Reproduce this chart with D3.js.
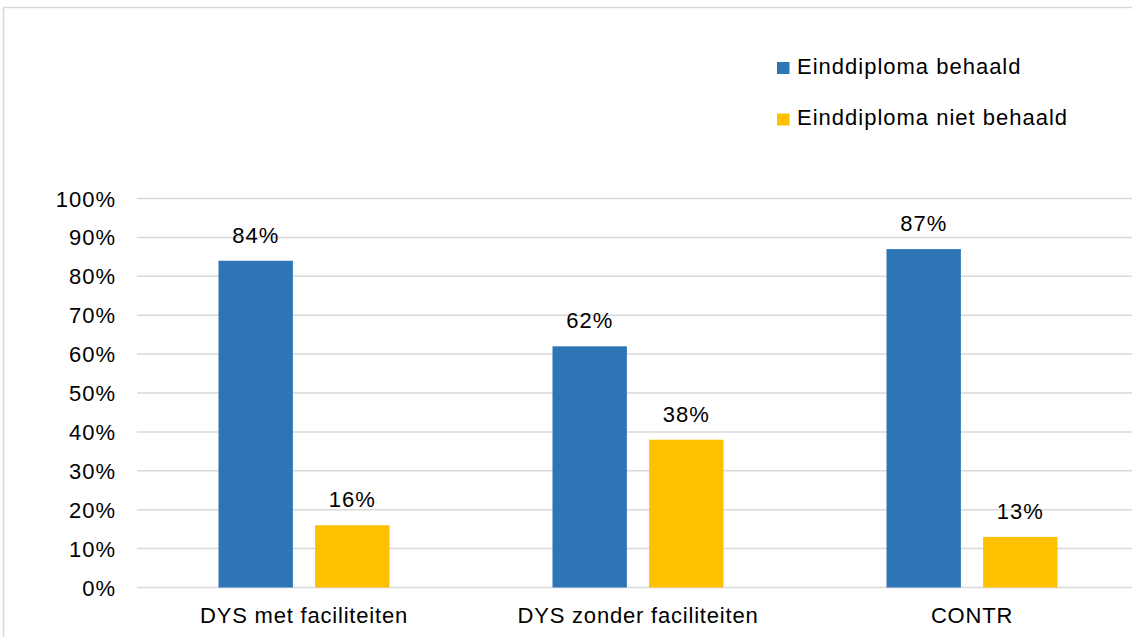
<!DOCTYPE html>
<html>
<head>
	<meta charset="utf-8">
	<title>Einddiploma</title>
	<script src="https://d3js.org/d3.v7.min.js"></script>
	<style>
		body { margin: 0; background: #fff; }
		text { font-family: "Liberation Sans", Arial, sans-serif; fill: #000; font-size: 22px; letter-spacing: 1px; }
	</style>
</head>
<body>
	<div id="chart"></div>
	<script>
		// data
		var categories = ["DYS met faciliteiten", "DYS zonder faciliteiten", "CONTR"];
		var seriesNames = ["Einddiploma behaald", "Einddiploma niet behaald"];
		var behaald = [84, 62, 87];
		var nietBehaald = [16, 38, 13];
		var yTicks = [0, 10, 20, 30, 40, 50, 60, 70, 80, 90, 100];
		var colors = ["#2E75B6", "#FFC000"];

		var w = 1132, h = 637;
		var svg = d3.select("#chart").append("svg")
			.attr("width", w)
			.attr("height", h);

		// chart border
		svg.append("rect")
			.attr("x", 3.5).attr("y", 7.5)
			.attr("width", w + 10).attr("height", h + 10)
			.attr("fill", "none")
			.attr("stroke", "#D9D9D9")
			.attr("stroke-width", 1.5);

		var x = d3.scaleBand().domain(categories).range([137, 1139]);
		var x1 = d3.scaleBand().domain(seriesNames).range([0, 171]).paddingInner(0.23);
		var y = d3.scaleLinear().domain([0, 100]).range([587.5, 198.5]);

		// gridlines
		svg.append("g").selectAll("line").data(yTicks).enter().append("line")
			.attr("x1", 137).attr("x2", w)
			.attr("y1", function(d) { return y(d); })
			.attr("y2", function(d) { return y(d); })
			.attr("stroke", "#D9D9D9")
			.attr("stroke-width", 1.5);

		// y axis labels
		svg.append("g").selectAll("text").data(yTicks).enter().append("text")
			.attr("x", 116)
			.attr("y", function(d) { return y(d) + 8; })
			.attr("text-anchor", "end")
			.text(function(d) { return d + "%"; });

		// bars
		var table = categories.map(function(c, i) {
			return { cat: c, vals: [behaald[i], nietBehaald[i]] };
		});
		var groups = svg.append("g").selectAll("g").data(table).enter().append("g")
			.attr("transform", function(d) { return "translate(" + (x(d.cat) + x.bandwidth() / 2 - 85.5) + ",0)"; });

		groups.selectAll("rect").data(function(d) {
			return d.vals.map(function(v, j) { return { s: seriesNames[j], v: v, j: j }; });
		}).enter().append("rect")
			.attr("x", function(d) { return x1(d.s); })
			.attr("width", x1.bandwidth())
			.attr("y", function(d) { return y(d.v); })
			.attr("height", function(d) { return y(0) - y(d.v); })
			.attr("fill", function(d) { return colors[d.j]; });

		groups.selectAll("text").data(function(d) {
			return d.vals.map(function(v, j) { return { s: seriesNames[j], v: v }; });
		}).enter().append("text")
			.attr("x", function(d) { return x1(d.s) + x1.bandwidth() / 2; })
			.attr("y", function(d) { return y(d.v) - 18; })
			.attr("text-anchor", "middle")
			.text(function(d) { return d.v + "%"; });

		// category labels
		svg.append("g").selectAll("text").data(categories).enter().append("text")
			.attr("x", function(d) { return x(d) + x.bandwidth() / 2; })
			.attr("y", 623)
			.attr("text-anchor", "middle")
			.style("letter-spacing", "0.8px")
			.text(function(d) { return d; });

		// legend
		var legend = svg.append("g").selectAll("g").data(seriesNames).enter().append("g")
			.attr("transform", function(d, i) { return "translate(777," + (62 + i * 51.5) + ")"; });
		legend.append("rect")
			.attr("width", 12.5).attr("height", 12)
			.attr("fill", function(d, i) { return colors[i]; });
		legend.append("text")
			.attr("x", 20).attr("y", 11.5)
			.text(function(d) { return d; });
	</script>
</body>
</html>
